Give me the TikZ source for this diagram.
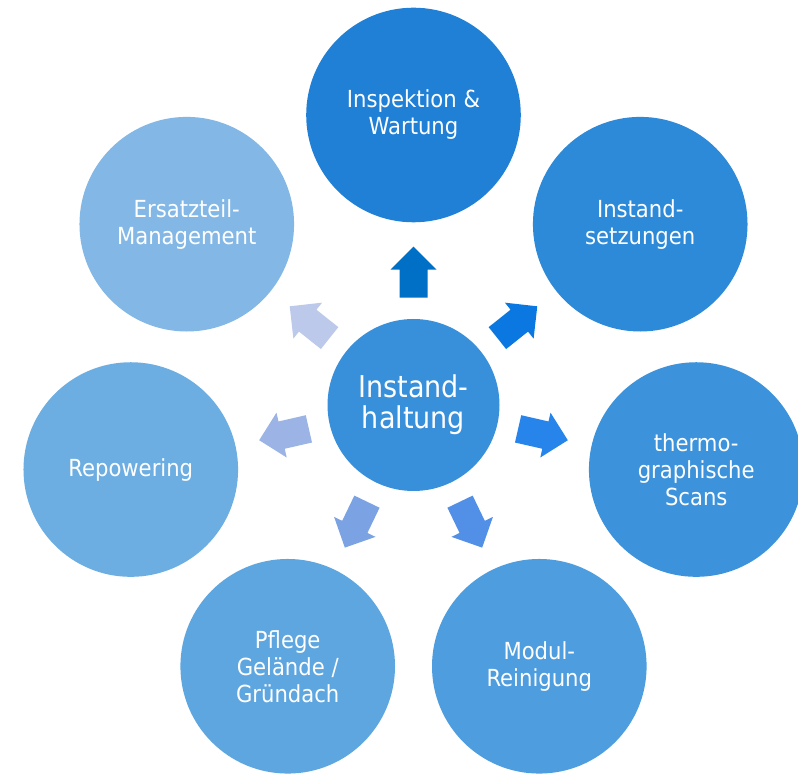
\documentclass[tikz,border=0pt]{standalone}
\usepackage{fontspec}
\setmainfont{DejaVu Sans Condensed}
\usetikzlibrary{calc}
\definecolor{cCenter}{HTML}{3890DB}
\definecolor{cA}{HTML}{1F80D6}
\definecolor{cB}{HTML}{83B8E6}
\definecolor{cC}{HTML}{6DAEE2}
\definecolor{cD}{HTML}{5EA6E0}
\definecolor{cE}{HTML}{4E9DDE}
\definecolor{cF}{HTML}{3C93DB}
\definecolor{cG}{HTML}{2D8AD9}
\definecolor{aA}{HTML}{0070C6}
\definecolor{aB}{HTML}{BCC9EB}
\definecolor{aC}{HTML}{9CB4E5}
\definecolor{aD}{HTML}{7BA2E3}
\definecolor{aE}{HTML}{528FE6}
\definecolor{aF}{HTML}{2784EA}
\definecolor{aG}{HTML}{0B78E2}
\newcommand{\blkarrowshape}{(107.3,-14) -- (135.3,-14) -- (135.3,-23) -- (158.3,0) -- (135.3,23) -- (135.3,14) -- (107.3,14) -- cycle}
\begin{document}
\begin{tikzpicture}[x=1pt,y=1pt,
  bubble/.style={circle, minimum size=214.6pt, inner sep=0pt, text=white,
    align=center, font=\fontsize{23.5}{27}\selectfont},
  hub/.style={circle, minimum size=172pt, inner sep=0pt, text=white,
    align=center, font=\fontsize{30}{31}\selectfont, fill=cCenter},
  blockarrow/.style={shift={(c)}, rotate=#1}]
\clip (0,0) rectangle (798,774);
\fill[white] (0,0) rectangle (798,774);
\coordinate (c) at (413.5,369);
\node[hub] (hub) at (c) {Instand-\\haltung};
\node[bubble, fill=cA] (n0) at ($(c)+(90:290pt)$) {Inspektion \&\\Wartung};
\node[bubble, fill=cB] (n1) at ($(c)+(141.43:290pt)$) {Ersatzteil-\\Management};
\node[bubble, fill=cC] (n2) at ($(c)+(192.86:290pt)$) {Repowering};
\node[bubble, fill=cD] (n3) at ($(c)+(244.29:290pt)$) {Pflege\\Gelände /\\Gründach};
\node[bubble, fill=cE] (n4) at ($(c)+(295.71:290pt)$) {Modul-\\Reinigung};
\node[bubble, fill=cF] (n5) at ($(c)+(347.14:290pt)$) {thermo-\\graphische\\Scans};
\node[bubble, fill=cG] (n6) at ($(c)+(38.57:290pt)$) {Instand-\\setzungen};
\fill[aA, blockarrow=90] \blkarrowshape;
\fill[aB, blockarrow=141.43] \blkarrowshape;
\fill[aC, blockarrow=192.86] \blkarrowshape;
\fill[aD, blockarrow=244.29] \blkarrowshape;
\fill[aE, blockarrow=295.71] \blkarrowshape;
\fill[aF, blockarrow=347.14] \blkarrowshape;
\fill[aG, blockarrow=38.57] \blkarrowshape;
\end{tikzpicture}
\end{document}
